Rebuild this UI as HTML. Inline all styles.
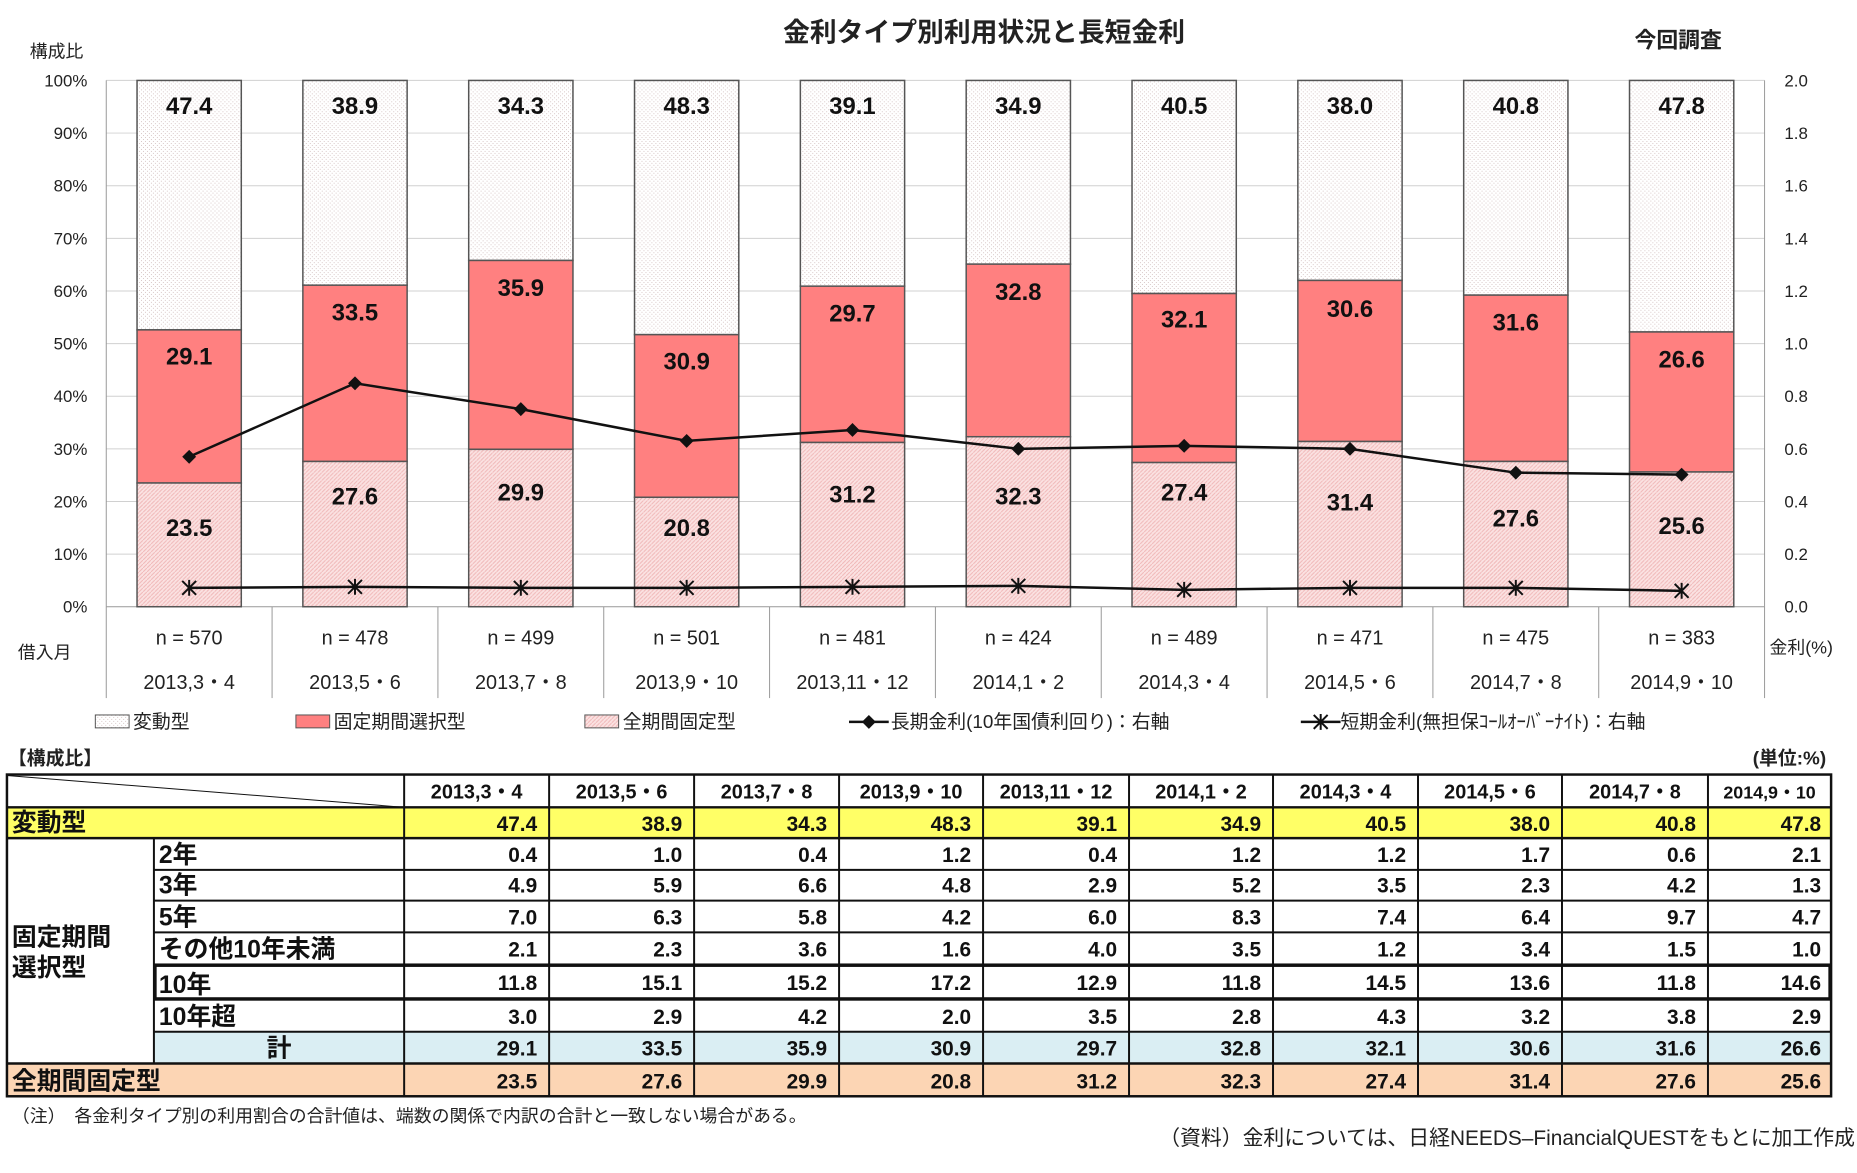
<!DOCTYPE html>
<html><head><meta charset="utf-8"><style>
html,body{margin:0;padding:0;background:#fff}
svg{display:block}
text{font-family:"Liberation Sans","Noto Sans CJK JP",sans-serif}
.b{font-weight:bold}
</style></head><body>
<svg width="1857" height="1173" viewBox="0 0 1857 1173" xmlns="http://www.w3.org/2000/svg">
<defs>
<pattern id="dots" width="4" height="4" patternUnits="userSpaceOnUse"><rect width="4" height="4" fill="#fff"/><rect x="0" y="0" width="1" height="1" fill="#d8c8c8"/><rect x="2" y="2" width="1" height="1" fill="#d8c8c8"/></pattern>
<pattern id="hatch" width="4" height="4" patternUnits="userSpaceOnUse"><rect width="4" height="4" fill="#fbe2e2"/><path d="M0 4L4 0" stroke="#f0b8b8" stroke-width="1"/></pattern>
</defs>
<g transform="scale(0.993)">
<text x="991" y="42" font-size="27" text-anchor="middle" class="b" fill="#222">金利タイプ別利用状況と長短金利</text>
<text x="1690" y="48" font-size="22" text-anchor="middle" class="b" fill="#222">今回調査</text>
<text x="30" y="58" font-size="18" fill="#222">構成比</text>
<g stroke="#d0d0d0" stroke-width="1">
<line x1="107" x2="1777" y1="81" y2="81"/><line x1="107" x2="1777" y1="134" y2="134"/><line x1="107" x2="1777" y1="187" y2="187"/><line x1="107" x2="1777" y1="240" y2="240"/><line x1="107" x2="1777" y1="293" y2="293"/><line x1="107" x2="1777" y1="346" y2="346"/><line x1="107" x2="1777" y1="399" y2="399"/><line x1="107" x2="1777" y1="452" y2="452"/><line x1="107" x2="1777" y1="505" y2="505"/><line x1="107" x2="1777" y1="558" y2="558"/>
</g>
<g stroke="#999" stroke-width="1"><line x1="107" x2="1777" y1="611" y2="611"/><line x1="107" x2="107" y1="81" y2="611"/><line x1="1777" x2="1777" y1="81" y2="611"/>
<line x1="107" x2="107" y1="611" y2="703"/><line x1="274" x2="274" y1="611" y2="703"/><line x1="441" x2="441" y1="611" y2="703"/><line x1="608" x2="608" y1="611" y2="703"/><line x1="775" x2="775" y1="611" y2="703"/><line x1="942" x2="942" y1="611" y2="703"/><line x1="1109" x2="1109" y1="611" y2="703"/><line x1="1276" x2="1276" y1="611" y2="703"/><line x1="1443" x2="1443" y1="611" y2="703"/><line x1="1610" x2="1610" y1="611" y2="703"/><line x1="1777" x2="1777" y1="611" y2="703"/>
</g>
<g font-size="17" fill="#222" text-anchor="end">
<text x="88" y="87">100%</text><text x="88" y="140">90%</text><text x="88" y="193">80%</text><text x="88" y="246">70%</text><text x="88" y="299">60%</text><text x="88" y="352">50%</text><text x="88" y="405">40%</text><text x="88" y="458">30%</text><text x="88" y="511">20%</text><text x="88" y="564">10%</text><text x="88" y="617">0%</text>
</g>
<g font-size="17" fill="#222">
<text x="1797" y="87">2.0</text><text x="1797" y="140">1.8</text><text x="1797" y="193">1.6</text><text x="1797" y="246">1.4</text><text x="1797" y="299">1.2</text><text x="1797" y="352">1.0</text><text x="1797" y="405">0.8</text><text x="1797" y="458">0.6</text><text x="1797" y="511">0.4</text><text x="1797" y="564">0.2</text><text x="1797" y="617">0.0</text>
</g>
<g stroke="#555" stroke-width="1.5">
<rect x="138" y="81" width="105" height="251.2" fill="url(#dots)"/><rect x="138" y="332.2" width="105" height="154.2" fill="#ff8080"/><rect x="138" y="486.4" width="105" height="124.6" fill="url(#hatch)"/>
<rect x="305" y="81" width="105" height="206.2" fill="url(#dots)"/><rect x="305" y="287.2" width="105" height="177.5" fill="#ff8080"/><rect x="305" y="464.7" width="105" height="146.3" fill="url(#hatch)"/>
<rect x="472" y="81" width="105" height="181.3" fill="url(#dots)"/><rect x="472" y="262.3" width="105" height="190.2" fill="#ff8080"/><rect x="472" y="452.5" width="105" height="158.5" fill="url(#hatch)"/>
<rect x="639" y="81" width="105" height="256" fill="url(#dots)"/><rect x="639" y="337" width="105" height="163.8" fill="#ff8080"/><rect x="639" y="500.8" width="105" height="110.2" fill="url(#hatch)"/>
<rect x="806" y="81" width="105" height="207.2" fill="url(#dots)"/><rect x="806" y="288.2" width="105" height="157.4" fill="#ff8080"/><rect x="806" y="445.6" width="105" height="165.4" fill="url(#hatch)"/>
<rect x="973" y="81" width="105" height="185" fill="url(#dots)"/><rect x="973" y="266" width="105" height="173.8" fill="#ff8080"/><rect x="973" y="439.8" width="105" height="171.2" fill="url(#hatch)"/>
<rect x="1140" y="81" width="105" height="214.6" fill="url(#dots)"/><rect x="1140" y="295.6" width="105" height="170.2" fill="#ff8080"/><rect x="1140" y="465.8" width="105" height="145.2" fill="url(#hatch)"/>
<rect x="1307" y="81" width="105" height="201.4" fill="url(#dots)"/><rect x="1307" y="282.4" width="105" height="162.2" fill="#ff8080"/><rect x="1307" y="444.6" width="105" height="166.4" fill="url(#hatch)"/>
<rect x="1474" y="81" width="105" height="216.2" fill="url(#dots)"/><rect x="1474" y="297.2" width="105" height="167.5" fill="#ff8080"/><rect x="1474" y="464.7" width="105" height="146.3" fill="url(#hatch)"/>
<rect x="1641" y="81" width="105" height="253.3" fill="url(#dots)"/><rect x="1641" y="334.3" width="105" height="141" fill="#ff8080"/><rect x="1641" y="475.3" width="105" height="135.7" fill="url(#hatch)"/>
</g>
<g font-size="24" class="b" fill="#111" text-anchor="middle">
<text x="190.5" y="115">47.4</text><text x="357.5" y="115">38.9</text><text x="524.5" y="115">34.3</text><text x="691.5" y="115">48.3</text><text x="858.5" y="115">39.1</text><text x="1025.5" y="115">34.9</text><text x="1192.5" y="115">40.5</text><text x="1359.5" y="115">38.0</text><text x="1526.5" y="115">40.8</text><text x="1693.5" y="115">47.8</text>
<text x="190.5" y="367">29.1</text><text x="357.5" y="323">33.5</text><text x="524.5" y="298">35.9</text><text x="691.5" y="372">30.9</text><text x="858.5" y="324">29.7</text><text x="1025.5" y="302">32.8</text><text x="1192.5" y="330">32.1</text><text x="1359.5" y="319">30.6</text><text x="1526.5" y="333">31.6</text><text x="1693.5" y="370">26.6</text>
<text x="190.5" y="540">23.5</text><text x="357.5" y="508">27.6</text><text x="524.5" y="504">29.9</text><text x="691.5" y="540">20.8</text><text x="858.5" y="506">31.2</text><text x="1025.5" y="508">32.3</text><text x="1192.5" y="504">27.4</text><text x="1359.5" y="514">31.4</text><text x="1526.5" y="530">27.6</text><text x="1693.5" y="538">25.6</text>
</g>
<polyline fill="none" stroke="#111" stroke-width="2.5" points="190.5,460 357.5,386 524.5,412 691.5,444 858.5,433 1025.5,452 1192.5,449 1359.5,452 1526.5,476 1693.5,478"/>
<g fill="#111"><path d="M190.5 453l7 7-7 7-7-7z"/><path d="M357.5 379l7 7-7 7-7-7z"/><path d="M524.5 405l7 7-7 7-7-7z"/><path d="M691.5 437l7 7-7 7-7-7z"/><path d="M858.5 426l7 7-7 7-7-7z"/><path d="M1025.5 445l7 7-7 7-7-7z"/><path d="M1192.5 442l7 7-7 7-7-7z"/><path d="M1359.5 445l7 7-7 7-7-7z"/><path d="M1526.5 469l7 7-7 7-7-7z"/><path d="M1693.5 471l7 7-7 7-7-7z"/></g>
<polyline fill="none" stroke="#111" stroke-width="2.5" points="190.5,592 357.5,591 524.5,592 691.5,592 858.5,591 1025.5,590 1192.5,594 1359.5,592 1526.5,592 1693.5,595"/>
<g stroke="#111" stroke-width="2">
<path d="M183.5 585l14 14M197.5 585l-14 14M190.5 584v16"/><path d="M350.5 584l14 14M364.5 584l-14 14M357.5 583v16"/><path d="M517.5 585l14 14M531.5 585l-14 14M524.5 584v16"/><path d="M684.5 585l14 14M698.5 585l-14 14M691.5 584v16"/><path d="M851.5 584l14 14M865.5 584l-14 14M858.5 583v16"/><path d="M1018.5 583l14 14M1032.5 583l-14 14M1025.5 582v16"/><path d="M1185.5 587l14 14M1199.5 587l-14 14M1192.5 586v16"/><path d="M1352.5 585l14 14M1366.5 585l-14 14M1359.5 584v16"/><path d="M1519.5 585l14 14M1533.5 585l-14 14M1526.5 584v16"/><path d="M1686.5 588l14 14M1700.5 588l-14 14M1693.5 587v16"/>
</g>
<g font-size="20" fill="#222" text-anchor="middle">
<text x="190.5" y="649">n = 570</text><text x="357.5" y="649">n = 478</text><text x="524.5" y="649">n = 499</text><text x="691.5" y="649">n = 501</text><text x="858.5" y="649">n = 481</text><text x="1025.5" y="649">n = 424</text><text x="1192.5" y="649">n = 489</text><text x="1359.5" y="649">n = 471</text><text x="1526.5" y="649">n = 475</text><text x="1693.5" y="649">n = 383</text>
<text x="190.5" y="694">2013,3・4</text><text x="357.5" y="694">2013,5・6</text><text x="524.5" y="694">2013,7・8</text><text x="691.5" y="694">2013,9・10</text><text x="858.5" y="694">2013,11・12</text><text x="1025.5" y="694">2014,1・2</text><text x="1192.5" y="694">2014,3・4</text><text x="1359.5" y="694">2014,5・6</text><text x="1526.5" y="694">2014,7・8</text><text x="1693.5" y="694">2014,9・10</text>
</g>
<text x="18" y="663" font-size="18" fill="#222">借入月</text>
<text x="1782" y="658" font-size="18" fill="#222">金利(%)</text>
<rect x="96" y="720" width="34" height="13" fill="url(#dots)" stroke="#555"/><text x="134" y="733" font-size="19" fill="#222">変動型</text>
<rect x="298" y="720" width="34" height="13" fill="#ff8080" stroke="#555"/><text x="336" y="733" font-size="19" fill="#222">固定期間選択型</text>
<rect x="589" y="720" width="34" height="13" fill="url(#hatch)" stroke="#555"/><text x="627" y="733" font-size="19" fill="#222">全期間固定型</text>
<line x1="855" x2="895" y1="727" y2="727" stroke="#111" stroke-width="2.5"/><path d="M875 720l7 7-7 7-7-7z" fill="#111"/><text x="897" y="733" font-size="19" fill="#222">長期金利(10年国債利回り)：右軸</text>
<line x1="1310" x2="1350" y1="727" y2="727" stroke="#111" stroke-width="2.5"/><path d="M1323 720l14 14M1337 720l-14 14M1330 719v16" stroke="#111" stroke-width="2"/><text x="1350" y="733" font-size="19" fill="#222">短期金利(無担保ｺｰﾙｵｰﾊﾞｰﾅｲﾄ)：右軸</text>
<text x="8" y="770" font-size="19" class="b" fill="#222">【構成比】</text>
<text x="1839" y="770" font-size="19" class="b" fill="#222" text-anchor="end">(単位:%)</text>
<rect x="7" y="813" width="400" height="31" fill="#ffff66"/><rect x="407" y="813" width="1437" height="31" fill="#ffff66"/>
<rect x="155" y="1039" width="1689" height="32" fill="#daeef3"/>
<rect x="7" y="1071" width="1837" height="33" fill="#fcd5b4"/>
<g stroke="#111" stroke-width="2" fill="none">
<rect x="7" y="780" width="1837" height="324" stroke-width="2.5"/>
<line x1="7" x2="1844" y1="813" y2="813" stroke-width="2.5"/><line x1="7" x2="1844" y1="844" y2="844" stroke-width="2.5"/>
<line x1="155" x2="1844" y1="876" y2="876"/><line x1="155" x2="1844" y1="907" y2="907"/><line x1="155" x2="1844" y1="939" y2="939"/><line x1="155" x2="1844" y1="1039" y2="1039"/>
<line x1="7" x2="1844" y1="1071" y2="1071" stroke-width="2.5"/>
<line x1="155" x2="155" y1="844" y2="1071"/>
<line x1="407" x2="407" y1="780" y2="1104"/><line x1="553" x2="553" y1="780" y2="1104"/><line x1="699" x2="699" y1="780" y2="1104"/><line x1="845" x2="845" y1="780" y2="1104"/><line x1="990" x2="990" y1="780" y2="1104"/><line x1="1137" x2="1137" y1="780" y2="1104"/><line x1="1282" x2="1282" y1="780" y2="1104"/><line x1="1428" x2="1428" y1="780" y2="1104"/><line x1="1573" x2="1573" y1="780" y2="1104"/><line x1="1720" x2="1720" y1="780" y2="1104"/>
<line x1="7" y1="781" x2="407" y2="813" stroke-width="1"/>
<rect x="156" y="972" width="1687" height="34" stroke-width="3.5"/>
</g>
<g font-size="20" class="b" fill="#111" text-anchor="middle">
<text x="480" y="804">2013,3・4</text><text x="626" y="804">2013,5・6</text><text x="772" y="804">2013,7・8</text><text x="917.5" y="804">2013,9・10</text><text x="1063.5" y="804">2013,11・12</text><text x="1209.5" y="804">2014,1・2</text><text x="1355" y="804">2014,3・4</text><text x="1500.5" y="804">2014,5・6</text><text x="1646.5" y="804">2014,7・8</text><text x="1782" y="804" font-size="18">2014,9・10</text>
</g>
<g font-size="25" class="b" fill="#111">
<text x="12" y="837">変動型</text>
<text x="160" y="869">2年</text><text x="160" y="900">3年</text><text x="160" y="932">5年</text><text x="160" y="964">その他10年未満</text><text x="160" y="1000">10年</text><text x="160" y="1032">10年超</text>
<text x="281" y="1064" text-anchor="middle">計</text>
<text x="12" y="1097">全期間固定型</text>
<text x="12" y="952">固定期間</text><text x="12" y="983">選択型</text>
</g>
<g font-size="21" class="b" fill="#111" text-anchor="end">
<text x="541" y="837">47.4</text><text x="687" y="837">38.9</text><text x="833" y="837">34.3</text><text x="978" y="837">48.3</text><text x="1125" y="837">39.1</text><text x="1270" y="837">34.9</text><text x="1416" y="837">40.5</text><text x="1561" y="837">38.0</text><text x="1708" y="837">40.8</text><text x="1834" y="837">47.8</text>
<text x="541" y="868">0.4</text><text x="687" y="868">1.0</text><text x="833" y="868">0.4</text><text x="978" y="868">1.2</text><text x="1125" y="868">0.4</text><text x="1270" y="868">1.2</text><text x="1416" y="868">1.2</text><text x="1561" y="868">1.7</text><text x="1708" y="868">0.6</text><text x="1834" y="868">2.1</text>
<text x="541" y="899">4.9</text><text x="687" y="899">5.9</text><text x="833" y="899">6.6</text><text x="978" y="899">4.8</text><text x="1125" y="899">2.9</text><text x="1270" y="899">5.2</text><text x="1416" y="899">3.5</text><text x="1561" y="899">2.3</text><text x="1708" y="899">4.2</text><text x="1834" y="899">1.3</text>
<text x="541" y="931">7.0</text><text x="687" y="931">6.3</text><text x="833" y="931">5.8</text><text x="978" y="931">4.2</text><text x="1125" y="931">6.0</text><text x="1270" y="931">8.3</text><text x="1416" y="931">7.4</text><text x="1561" y="931">6.4</text><text x="1708" y="931">9.7</text><text x="1834" y="931">4.7</text>
<text x="541" y="963">2.1</text><text x="687" y="963">2.3</text><text x="833" y="963">3.6</text><text x="978" y="963">1.6</text><text x="1125" y="963">4.0</text><text x="1270" y="963">3.5</text><text x="1416" y="963">1.2</text><text x="1561" y="963">3.4</text><text x="1708" y="963">1.5</text><text x="1834" y="963">1.0</text>
<text x="541" y="997">11.8</text><text x="687" y="997">15.1</text><text x="833" y="997">15.2</text><text x="978" y="997">17.2</text><text x="1125" y="997">12.9</text><text x="1270" y="997">11.8</text><text x="1416" y="997">14.5</text><text x="1561" y="997">13.6</text><text x="1708" y="997">11.8</text><text x="1834" y="997">14.6</text>
<text x="541" y="1031">3.0</text><text x="687" y="1031">2.9</text><text x="833" y="1031">4.2</text><text x="978" y="1031">2.0</text><text x="1125" y="1031">3.5</text><text x="1270" y="1031">2.8</text><text x="1416" y="1031">4.3</text><text x="1561" y="1031">3.2</text><text x="1708" y="1031">3.8</text><text x="1834" y="1031">2.9</text>
<text x="541" y="1063">29.1</text><text x="687" y="1063">33.5</text><text x="833" y="1063">35.9</text><text x="978" y="1063">30.9</text><text x="1125" y="1063">29.7</text><text x="1270" y="1063">32.8</text><text x="1416" y="1063">32.1</text><text x="1561" y="1063">30.6</text><text x="1708" y="1063">31.6</text><text x="1834" y="1063">26.6</text>
<text x="541" y="1096">23.5</text><text x="687" y="1096">27.6</text><text x="833" y="1096">29.9</text><text x="978" y="1096">20.8</text><text x="1125" y="1096">31.2</text><text x="1270" y="1096">32.3</text><text x="1416" y="1096">27.4</text><text x="1561" y="1096">31.4</text><text x="1708" y="1096">27.6</text><text x="1834" y="1096">25.6</text>
</g>
<text x="12" y="1130" font-size="18" fill="#222">（注）　各金利タイプ別の利用割合の合計値は、端数の関係で内訳の合計と一致しない場合がある。</text>
<text x="1868" y="1153" font-size="21" fill="#222" text-anchor="end">（資料）金利については、日経NEEDS–FinancialQUESTをもとに加工作成</text>
</g>
</svg>
</body></html>
